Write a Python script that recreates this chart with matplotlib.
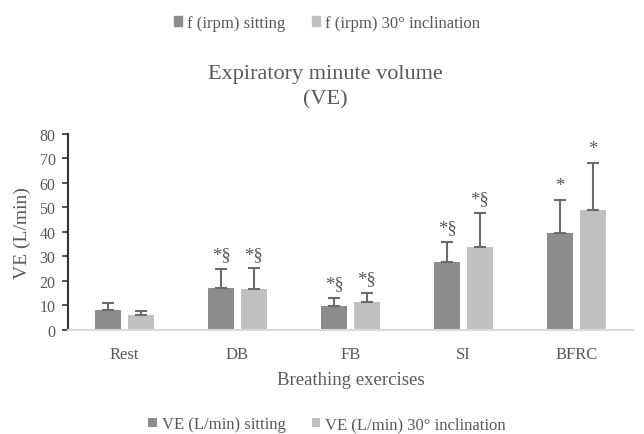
import numpy as np
import matplotlib.pyplot as plt
from matplotlib.patches import Patch

plt.rcParams['font.family'] = ['Liberation Serif', 'DejaVu Serif']

categories = ['Rest', 'DB', 'FB', 'SI', 'BFRC']
ve_sitting = [8.2, 16.9, 9.8, 27.6, 39.3]
ve_sitting_sd = [2.8, 7.9, 3.3, 8.4, 13.7]
ve_incl = [6.0, 16.7, 11.2, 33.9, 48.7]
ve_incl_sd = [1.6, 8.3, 3.9, 13.9, 19.5]
marks_sitting = ['', '*§', '*§', '*§', '*']
marks_incl = ['', '*§', '*§', '*§', '*']

c_sit = '#8c8c8c'
c_incl = '#c0c0c0'
txt = '#595959'

fig = plt.figure(figsize=(6.44, 4.35), dpi=100)
ax = fig.add_axes([0.1056, 0.2398, 0.877, 0.4505])

x = np.arange(len(categories))
w = 0.23
off = 0.145
ek = dict(ecolor='#6b6b6b', elinewidth=1.5, capsize=4, capthick=1.5)
b1 = ax.bar(x - off, ve_sitting, w, color=c_sit,
            yerr=[np.zeros(5), ve_sitting_sd], error_kw=ek)
b2 = ax.bar(x + off, ve_incl, w, color=c_incl,
            yerr=[np.zeros(5), ve_incl_sd], error_kw=ek)

# significance marks above the error bars
for xs, vals, sds, marks in [(x - off, ve_sitting, ve_sitting_sd, marks_sitting),
                             (x + off, ve_incl, ve_incl_sd, marks_incl)]:
    for xi, v, s, m in zip(xs, vals, sds, marks):
        if m:
            ax.annotate(m, (xi, v + s), xytext=(0, 4), textcoords='offset points',
                        ha='center', va='bottom', fontsize=13.5, color=txt)

ax.set_xlim(-0.5, 4.5)
ax.set_ylim(0, 80)
ax.set_yticks(range(0, 81, 10))
ax.set_xticks(x)
ax.set_xticklabels(categories)
ax.tick_params(axis='y', colors='#333333', labelcolor=txt, labelsize=11.5,
               length=4, width=1.2, direction='out', pad=5)
ax.tick_params(axis='x', length=0, labelcolor=txt, labelsize=12, pad=12)
for s in ['top', 'right']:
    ax.spines[s].set_visible(False)
ax.spines['left'].set_color('#333333')
ax.spines['left'].set_linewidth(1.5)
ax.spines['bottom'].set_color('#d9d9d9')
ax.spines['bottom'].set_linewidth(1.5)

ax.set_ylabel('VE (L/min)', fontsize=14, color=txt, labelpad=6)
ax.set_xlabel('Breathing exercises', fontsize=13.5, color=txt, labelpad=6)

fig.text(0.505, 0.80, 'Expiratory minute volume\n(VE)', ha='center', va='center',
         fontsize=16, color=txt, linespacing=1.45)

top_handles = [Patch(color=c_sit), Patch(color=c_incl)]
fig.legend(top_handles, ['f (irpm) sitting', 'f (irpm) 30° inclination'],
           loc='center', bbox_to_anchor=(0.508, 0.945), ncol=2, frameon=False,
           fontsize=12, handlelength=0.5, handleheight=0.5, handletextpad=0.3,
           columnspacing=1.6, labelcolor=txt)
fig.legend([b1, b2], ['VE (L/min) sitting', 'VE (L/min) 30° inclination'],
           loc='center', bbox_to_anchor=(0.508, 0.022), ncol=2, frameon=False,
           fontsize=12, handlelength=0.5, handleheight=0.5, handletextpad=0.3,
           columnspacing=1.6, labelcolor=txt)

fig.savefig('out.png', dpi=100)
